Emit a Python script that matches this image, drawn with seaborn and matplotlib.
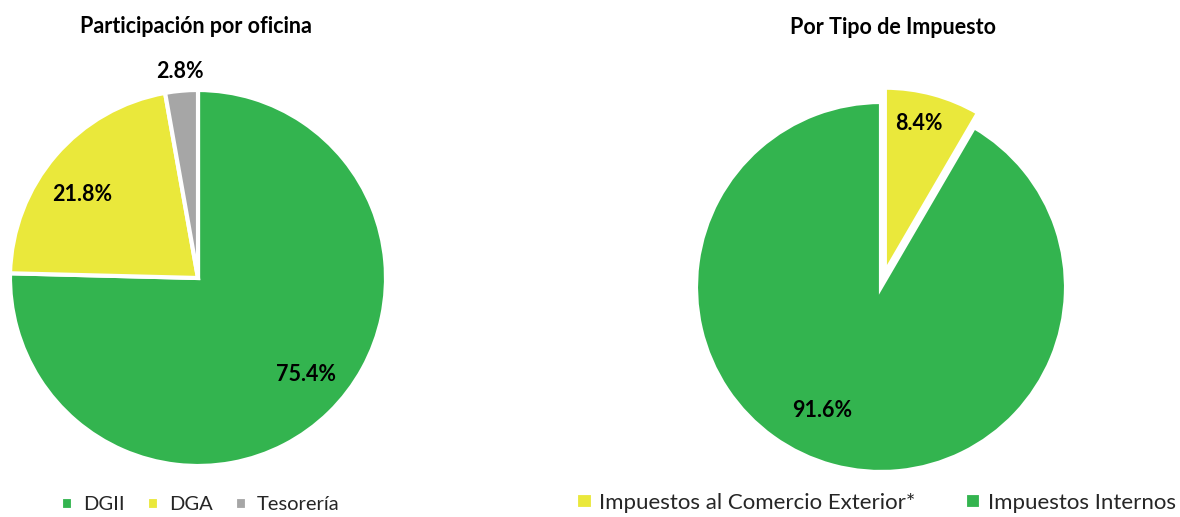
import numpy as np
import matplotlib
matplotlib.use("Agg")
import matplotlib.pyplot as plt
import seaborn as sns

# datos
oficinas = ["DGII", "DGA", "Tesorería"]
part_oficina = [75.4, 21.8, 2.8]
tipos = ["Impuestos al Comercio Exterior*", "Impuestos Internos"]
part_tipo = [8.4, 91.6]

verde = "#33B44F"
amarillo = "#EAE83B"
gris = "#A6A6A6"

sns.set_theme(style="white")
plt.rcParams["font.family"] = ["Lato", "DejaVu Sans"]

W, H = 1180, 517
fig = plt.figure(figsize=(W / 100, H / 100), dpi=100)


def pie_axes(cx, cy, r, pad=1.25):
    # caja en pixeles alrededor del centro
    half = r * pad
    return fig.add_axes([(cx - half) / W, (H - cy - half) / H, 2 * half / W, 2 * half / H])


def polar(rad, ang):
    a = np.deg2rad(ang)
    return rad * np.cos(a), rad * np.sin(a)


lbl_style = dict(fontsize=15.5, fontweight="bold", color="black")

# ===== Participación por oficina =====
ax1 = pie_axes(198, 278, 188)
w1, t1 = ax1.pie(part_oficina, colors=[verde, amarillo, gris], startangle=90,
                 counterclock=False, radius=1,
                 wedgeprops=dict(edgecolor="white", linewidth=3),
                 labels=[f"{v:.1f}%" for v in part_oficina], labeldistance=0.77,
                 textprops=lbl_style)
for t, (rr, aa) in zip(t1, [(0.77, -42), (0.76, 144), (1.1, 95)]):
    t.set_position(polar(rr, aa))
    t.set_ha("center")
    t.set_va("center")
ax1.set_xlim(-1.25, 1.25)
ax1.set_ylim(-1.25, 1.25)
ax1.axis("off")
fig.text(196 / W, 1 - 27 / H, "Participación por oficina", ha="center", va="center",
         fontsize=15.5, fontweight="bold", color="black")
fig.legend(w1, oficinas, loc="center", bbox_to_anchor=(200 / W, 1 - 505 / H), ncol=3,
           frameon=False, fontsize=14.5, handlelength=0.6, handleheight=0.6,
           handletextpad=0.5, columnspacing=1.1)

# ===== Por Tipo de Impuesto =====
ax2 = pie_axes(881, 287, 185)
w2, t2 = ax2.pie(part_tipo, colors=[amarillo, verde], startangle=90,
                 counterclock=False, radius=1, explode=[0.08, 0],
                 wedgeprops=dict(edgecolor="white", linewidth=3),
                 labels=[f"{v:.1f}%" for v in part_tipo], labeldistance=0.8,
                 textprops=lbl_style)
for t, pos in zip(t2, [(0.205, 0.886), (-0.319, -0.665)]):
    t.set_position(pos)
    t.set_ha("center")
    t.set_va("center")
for w in w1 + w2:
    w.set_clip_on(False)
ax2.set_xlim(-1.25, 1.25)
ax2.set_ylim(-1.25, 1.25)
ax2.axis("off")
fig.text(893 / W, 1 - 28 / H, "Por Tipo de Impuesto", ha="center", va="center",
         fontsize=15.5, fontweight="bold", color="black")
fig.legend(w2, tipos, loc="center", bbox_to_anchor=(876 / W, 1 - 503 / H), ncol=2,
           frameon=False, fontsize=16, handlelength=0.75, handleheight=0.75,
           handletextpad=0.3, columnspacing=2.2)

fig.savefig("out.png", dpi=100)
